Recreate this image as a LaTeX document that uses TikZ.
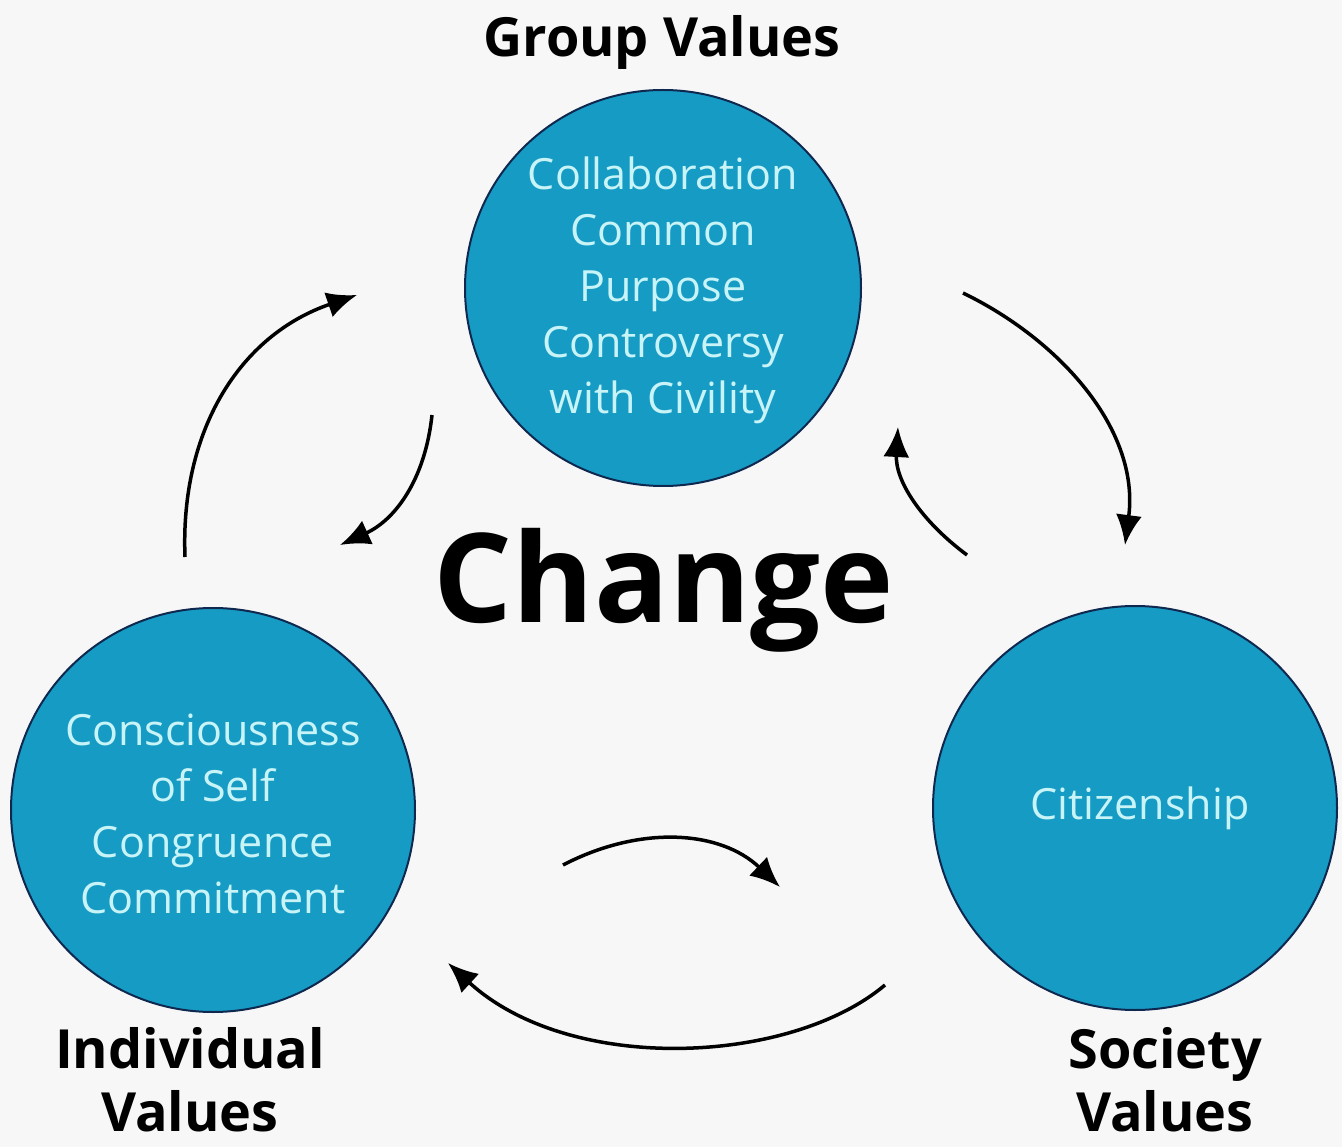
\documentclass[tikz,border=0pt]{standalone}
\usepackage{fontspec}
\setmainfont{Open Sans}
\usetikzlibrary{arrows.meta}
\definecolor{circfill}{RGB}{22,156,196}
\definecolor{circedge}{RGB}{15,40,80}
\definecolor{circtext}{RGB}{200,244,248}
\tikzset{
  valuecirc/.style={circle,fill=circfill,draw=circedge,line width=2pt,inner sep=0pt},
  intext/.style={text=circtext,font=\fontsize{43}{56}\selectfont,align=center},
  lbl/.style={font=\fontsize{54}{63}\selectfont\bfseries,align=center,text=black},
  cyc/.style={line width=3.5pt,-{Latex[length=30pt,width=26pt]}}
}
\begin{document}
\begin{tikzpicture}[x=1pt,y=-1pt]
\useasboundingbox[fill=white!97!black] (0,0) rectangle (1342,1147);
% circles
\node[valuecirc,minimum size=396pt] (group) at (663,288) {};
\node[valuecirc,minimum size=404pt] (indiv) at (213,810) {};
\node[valuecirc,minimum size=404pt] (soc) at (1135,808) {};
% circle texts
\node[intext] (grouptxt) at (663,290) {Collaboration\\Common\\Purpose\\Controversy\\with Civility};
\node[intext] (indivtxt) at (213,814) {Consciousness\\of Self\\Congruence\\Commitment};
\node[intext] (soctxt) at (1140,808) {Citizenship};
% labels
\node[lbl] (grouplbl) at (662,42) {Group Values};
\node[lbl] (indivlbl) at (190,1080) {Individual\\Values};
\node[lbl] (soclbl) at (1165,1080) {Society\\Values};
\node[font=\fontsize{124}{130}\selectfont\bfseries] (change) at (664,590) {Change};
% arrow end points
\coordinate (a1s) at (185,557); \coordinate (a1e) at (357,295);
\coordinate (a2s) at (432,415); \coordinate (a2e) at (340,545);
\coordinate (a3s) at (963,293); \coordinate (a3e) at (1125,545);
\coordinate (a4s) at (967,555); \coordinate (a4e) at (898,427);
\coordinate (a5s) at (563,865); \coordinate (a5e) at (780,887);
\coordinate (a6s) at (885,985); \coordinate (a6e) at (448,963);
% arrows
\draw[cyc] (a1s) .. controls (180,430) and (240,335) .. (a1e);
\draw[cyc] (a2s) .. controls (425,480) and (395,520) .. (a2e);
\draw[cyc] (a3s) .. controls (1060,340) and (1140,430) .. (a3e);
\draw[cyc] (a4s) .. controls (920,520) and (895,480) .. (a4e);
\draw[cyc] (a5s) .. controls (640,825) and (720,830) .. (a5e);
\draw[cyc] (a6s) .. controls (790,1065) and (570,1075) .. (a6e);
\end{tikzpicture}
\end{document}
